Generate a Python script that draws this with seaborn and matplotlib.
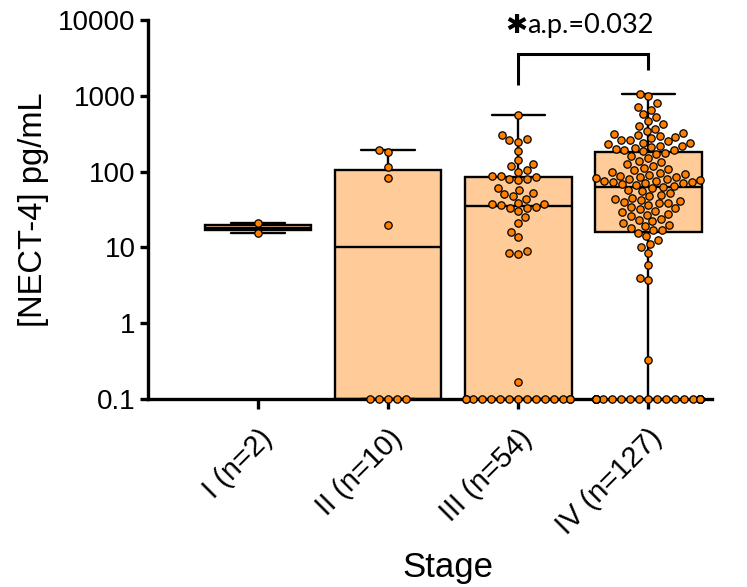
import numpy as np
import pandas as pd
import matplotlib
matplotlib.use("Agg")
import matplotlib.pyplot as plt
import matplotlib.transforms as mtransforms
import seaborn as sns

# ---------------- data ----------------
stages = ["I (n=2)", "II (n=10)", "III (n=54)", "IV (n=127)"]
floor_value = 0.1          # undetectable samples are drawn on the axis floor

stage_i_values = [21.2, 15.3]
stage_ii_undetected = 5
stage_ii_values = [20, 83, 114, 180, 190]
stage_iii_undetected = 15
stage_iii_values = [0.17, 8.2, 8.5, 9.0, 13.6, 16, 21, 25, 30, 33, 33, 34, 36, 37, 37,
                    39, 44, 48, 50, 52, 58, 61, 77, 79, 80, 86, 87, 87, 100, 105, 120,
                    125, 142, 189, 248, 259, 267, 301, 553]
stage_iv_undetected = 22
stage_iv_values = [0.33, 3.7, 4.0, 5.8, 8.5, 10, 11, 12.5, 14, 15.5, 16.8,
                   17, 18, 19, 20, 21, 22, 23, 24, 26, 27, 28, 29, 30, 32, 33, 34, 36,
                   38, 39, 40, 41, 42, 43, 45, 47, 49, 52, 55, 57, 60,
                   63,
                   65, 67, 68, 70, 71, 72, 74, 75, 76, 78, 79, 80, 82, 84, 86, 88, 90,
                   93, 96, 100, 104, 108, 112, 118, 125, 132, 140, 150, 160, 170,
                   178,
                   185, 190, 195, 200, 205, 210, 215, 220, 228, 235, 242, 250, 258, 265,
                   275, 285, 295, 300, 310, 325, 345, 370, 400, 430, 470, 520, 580, 650,
                   720, 800, 980, 1050]

y_ticks = [0.1, 1, 10, 100, 1000, 10000]
y_tick_labels = ["0.1", "1", "10", "100", "1000", "10000"]
sig_star = "\u2731"
sig_text = "a.p.=0.032"
sig_pair = (2, 3)

groups = [
    (stages[0], 0, stage_i_values),
    (stages[1], stage_ii_undetected, stage_ii_values),
    (stages[2], stage_iii_undetected, stage_iii_values),
    (stages[3], stage_iv_undetected, stage_iv_values),
]
rows = []
for name, n_und, vals in groups:
    rows += [(name, floor_value)] * n_und
    rows += [(name, v) for v in vals]
df = pd.DataFrame(rows, columns=["Stage", "value"])

# ---------------- style ----------------
BOX_FILL = "#FFCC99"
POINT = "#FF8000"

sns.set_style("ticks")
plt.rcParams["font.family"] = ["Liberation Sans", "DejaVu Sans"]
plt.rcParams["text.color"] = "black"
plt.rcParams["axes.labelcolor"] = "black"
plt.rcParams["xtick.color"] = "black"
plt.rcParams["ytick.color"] = "black"
plt.rcParams["axes.edgecolor"] = "black"

W, H = 747, 587
fig = plt.figure(figsize=(W / 100, H / 100), dpi=100)
ax_l, ax_r, ax_t, ax_b = 148, 712, 20, 399
ax = fig.add_axes([ax_l / W, 1 - ax_b / H, (ax_r - ax_l) / W, (ax_b - ax_t) / H])

# boxes computed on the linear values, then shown on a log axis
sns.boxplot(data=df, x="Stage", y="value", order=stages, whis=(0, 100),
            showfliers=False, color=BOX_FILL, saturation=1, linecolor="black",
            linewidth=1.7, width=0.82, ax=ax)
ax.set_yscale("log")
ax.set_ylim(0.1, 10000)
ax.set_xlim(-0.846, 3.49)

sns.swarmplot(data=df, x="Stage", y="value", order=stages, color=POINT,
              edgecolor="black", linewidth=0.9, size=5.3, warn_thresh=1, ax=ax)
for coll in ax.collections:
    coll.set_clip_on(False)
    coll.set_zorder(5)
ax.set_xlim(-0.846, 3.49)
ax.set_ylim(0.1, 10000)

# axes styling
sns.despine(ax=ax)
for s in ("left", "bottom"):
    ax.spines[s].set_linewidth(2.4)
    ax.spines[s].set_color("black")
    ax.spines[s].set_capstyle("projecting")
ax.set_yticks(y_ticks)
ax.set_yticklabels(y_tick_labels)
ax.yaxis.set_minor_locator(matplotlib.ticker.NullLocator())
ax.tick_params(axis="y", length=6, width=2.4, labelsize=20, pad=3, colors="black")
ax.tick_params(axis="x", length=7, width=2.4, labelsize=21, pad=11, colors="black")
for lab in ax.get_xticklabels():
    lab.set_rotation(45)
    lab.set_ha("right")
    lab.set_rotation_mode("anchor")

ax.set_ylabel("[NECT-4] pg/mL", fontsize=23.5)
ax.yaxis.set_label_coords(-0.175, 0.5)
ax.set_xlabel("Stage", fontsize=25, va="center")
blend = mtransforms.blended_transform_factory(ax.transData, ax.transAxes)
ax.xaxis.set_label_coords(1.46, -0.445, transform=blend)

# significance bracket
x0, x1 = sig_pair
ax.plot([x0, x0, x1, x1], [1380, 3560, 3560, 2200], color="black", lw=2.2,
        solid_joinstyle="miter", solid_capstyle="butt", clip_on=False)
ax.annotate(sig_star, xy=(x0, 6700), xytext=(-9, 0), textcoords="offset points",
            ha="left", va="baseline", fontsize=19, fontweight="bold",
            family="DejaVu Sans", annotation_clip=False)
ax.annotate(sig_text, xy=(x0, 6700), xytext=(6.5, 0), textcoords="offset points",
            ha="left", va="baseline", fontsize=19.5, family="Lato",
            annotation_clip=False)

fig.savefig("out.png", dpi=100)
